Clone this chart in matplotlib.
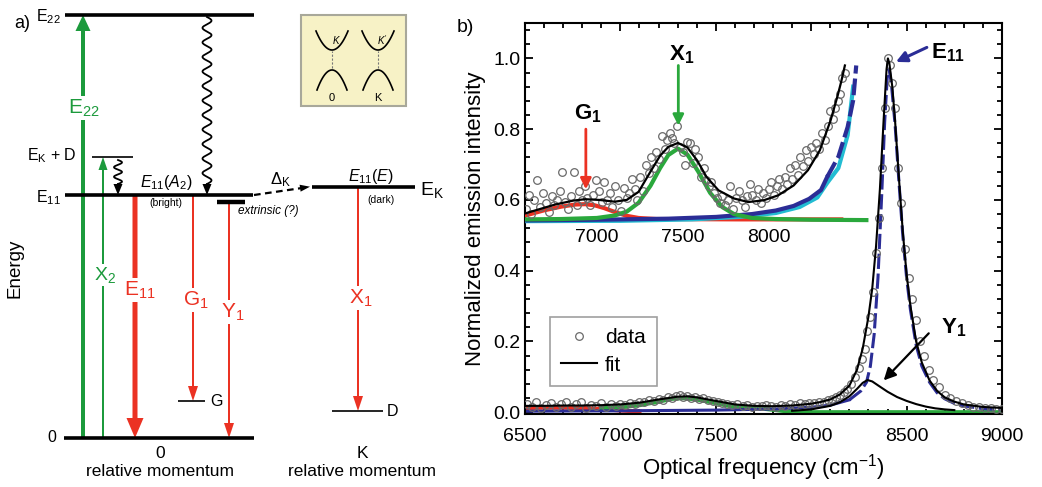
import numpy as np
import matplotlib
matplotlib.use("Agg")
import matplotlib.pyplot as plt
from matplotlib.patches import FancyArrow, Rectangle
from matplotlib.lines import Line2D
from matplotlib.ticker import MultipleLocator

plt.rcParams['font.family'] = ['Liberation Sans', 'DejaVu Sans']
plt.rcParams['mathtext.fontset'] = 'custom'
plt.rcParams['mathtext.rm'] = 'Liberation Sans'
plt.rcParams['mathtext.it'] = 'Liberation Sans:italic'
plt.rcParams['mathtext.bf'] = 'Liberation Sans:bold'

RED = '#eb3223'
GREEN = '#1c9a3c'
GREEN2 = '#2aa83c'
NAVY = '#2b2d96'
CYAN = '#22bcd2'
GREY = '#6a6a6a'

# ---------------- panel a: level scheme (energies in drawing units) ----------------
LEVEL_E = {'E22': 423, 'EKD': 281, 'E11': 243, 'EK': 251, 'extr': 236, 'G': 37, 'D': 27, 'gnd': 0}
LEVEL_X = {'E22': (65, 254), 'EKD': (92, 133), 'E11': (65, 253), 'EK': (312, 415),
           'extr': (217, 245), 'G': (178, 205), 'D': (332, 383), 'gnd': (64, 254)}
LEVEL_LW = {'E22': 2.6, 'EKD': 1.2, 'E11': 2.6, 'EK': 2.6, 'extr': 3.2, 'G': 1.2, 'D': 1.2, 'gnd': 2.6}

# spectrum: main fit and components (cm^-1, normalized)
FIT_X = [6500, 6600, 6700, 6800, 6900, 7000, 7100, 7200, 7300, 7350, 7400, 7500, 7600, 7700, 7800,
         7900, 8000, 8050, 8100, 8150, 8200, 8240, 8270, 8300, 8320, 8340, 8360, 8380, 8395, 8402,
         8410, 8425, 8440, 8460, 8480, 8500, 8520, 8550, 8580, 8620, 8660, 8700, 8750, 8800, 8900, 9000]
FIT_Y = [0.018, 0.018, 0.019, 0.019, 0.020, 0.022, 0.027, 0.036, 0.044, 0.045, 0.042, 0.032, 0.022,
         0.018, 0.017, 0.019, 0.024, 0.029, 0.036, 0.050, 0.075, 0.120, 0.180, 0.270, 0.350, 0.470,
         0.630, 0.830, 0.970, 1.000, 0.985, 0.920, 0.820, 0.660, 0.510, 0.390, 0.300, 0.200, 0.140,
         0.090, 0.060, 0.042, 0.030, 0.022, 0.015, 0.012]

E11_X = [6500, 7000, 7500, 7800, 8000, 8100, 8200, 8260, 8290, 8310, 8330, 8350, 8370, 8385, 8400,
         8408, 8420, 8440, 8460, 8480, 8500, 8520, 8550, 8580, 8620, 8660, 8700, 8750, 8800, 8900, 9000]
E11_Y = [0.003, 0.004, 0.006, 0.009, 0.014, 0.020, 0.035, 0.060, 0.085, 0.130, 0.220, 0.380, 0.620,
         0.820, 0.960, 0.970, 0.930, 0.810, 0.650, 0.500, 0.380, 0.290, 0.190, 0.130, 0.085, 0.055,
         0.038, 0.025, 0.018, 0.010, 0.007]

Y1_X = [7900, 8000, 8100, 8150, 8200, 8240, 8270, 8295, 8320, 8350, 8400, 8450, 8500, 8550, 8600,
        8650, 8700, 8750]
Y1_Y = [0.004, 0.008, 0.018, 0.028, 0.045, 0.066, 0.083, 0.091, 0.087, 0.076, 0.058, 0.043, 0.032,
        0.023, 0.016, 0.011, 0.008, 0.006]

X1_X = [6900, 7000, 7100, 7200, 7270, 7330, 7400, 7480, 7560, 7650, 7750, 7850, 7900, 8000, 9000]
X1_Y = [0.012, 0.014, 0.020, 0.030, 0.038, 0.040, 0.036, 0.028, 0.019, 0.013, 0.010, 0.004, 0.001,
        0.0, 0.0]

G1_X = [6500, 6600, 6700, 6800, 6900, 7000, 7100]
G1_Y = [0.012, 0.013, 0.013, 0.012, 0.009, 0.005, 0.002]

DATA_X = [6510, 6535, 6560, 6585, 6610, 6635, 6660, 6690, 6715, 6740, 6765, 6795, 6820, 6845, 6870,
          6900, 6925, 6950, 6975, 7000, 7025, 7050, 7075, 7100, 7125, 7150, 7175, 7200, 7225, 7250,
          7270, 7290, 7310, 7330, 7350, 7370, 7390, 7410, 7435, 7460, 7485, 7510, 7535, 7560, 7585,
          7610, 7640, 7665, 7690, 7715, 7740, 7765, 7790, 7815, 7840, 7865, 7890, 7915, 7940, 7965,
          7990, 8015, 8040, 8065, 8090, 8110, 8130, 8150, 8170, 8190, 8210, 8230, 8250, 8265, 8280,
          8295, 8310, 8325, 8340, 8355, 8370, 8385, 8400, 8412, 8425, 8440, 8455, 8470, 8490, 8510,
          8530, 8550, 8570, 8590, 8615, 8640, 8670, 8700, 8730, 8760, 8790, 8820, 8850, 8880, 8910,
          8940, 8970, 9000]
DATA_Y = [0.022, 0.015, 0.028, 0.012, 0.020, 0.026, 0.014, 0.024, 0.030, 0.016, 0.022, 0.028, 0.012,
          0.020, 0.018, 0.025, 0.015, 0.022, 0.019, 0.024, 0.020, 0.026, 0.022, 0.030, 0.028, 0.034,
          0.031, 0.038, 0.035, 0.042, 0.040, 0.047, 0.050, 0.044, 0.046, 0.041, 0.044, 0.038, 0.040,
          0.034, 0.031, 0.030, 0.026, 0.024, 0.021, 0.023, 0.018, 0.020, 0.016, 0.019, 0.017, 0.020,
          0.018, 0.016, 0.021, 0.019, 0.022, 0.020, 0.025, 0.023, 0.027, 0.025, 0.030, 0.028, 0.034,
          0.037, 0.042, 0.050, 0.056, 0.066, 0.080, 0.100, 0.125, 0.150, 0.180, 0.230, 0.270, 0.340,
          0.450, 0.550, 0.690, 0.860, 1.000, 0.980, 0.930, 0.860, 0.690, 0.590, 0.460, 0.380, 0.320,
          0.260, 0.200, 0.160, 0.120, 0.090, 0.070, 0.050, 0.040, 0.032, 0.025, 0.020, 0.016, 0.014,
          0.012, 0.011, 0.010, 0.010]

# magnified low-energy part (own frequency scale, offset intensity)
INSET_FIT_X = [6582, 6651, 6756, 6860, 6929, 7012, 7102, 7172, 7241, 7310, 7366, 7414, 7470, 7525,
               7581, 7636, 7706, 7796, 7879, 7969, 8053, 8143, 8226, 8295, 8358, 8399, 8420, 8441]
INSET_FIT_Y = [0.562, 0.572, 0.587, 0.598, 0.602, 0.600, 0.595, 0.600, 0.623, 0.680, 0.725, 0.750,
               0.761, 0.748, 0.712, 0.665, 0.627, 0.604, 0.594, 0.599, 0.613, 0.641, 0.684, 0.740,
               0.825, 0.895, 0.935, 0.980]
INSET_X1_X = [6582, 6790, 6998, 7102, 7172, 7241, 7310, 7366, 7414, 7470, 7525, 7588, 7657, 7727,
              7796, 7900, 8039, 8247, 8566]
INSET_X1_Y = [0.545, 0.546, 0.549, 0.556, 0.567, 0.592, 0.640, 0.690, 0.727, 0.745, 0.728, 0.680,
              0.620, 0.580, 0.560, 0.549, 0.546, 0.544, 0.543]
INSET_G1_X = [6582, 6686, 6790, 6873, 6929, 6984, 7040, 7102, 7172, 7241, 7345, 7831, 8420]
INSET_G1_Y = [0.556, 0.570, 0.581, 0.587, 0.588, 0.585, 0.577, 0.566, 0.555, 0.549, 0.546, 0.545, 0.545]
INSET_E11_X = [6582, 6998, 7414, 7692, 7900, 8039, 8143, 8233, 8302, 8338, 8403, 8457, 8489, 8507]
INSET_E11_Y = [0.542, 0.544, 0.547, 0.552, 0.560, 0.570, 0.583, 0.603, 0.628, 0.665, 0.722, 0.806,
               0.881, 0.980]
INSET_CYAN_X = [6582, 7137, 7553, 7831, 8039, 8178, 8281, 8338, 8403, 8457, 8489]
INSET_CYAN_Y = [0.540, 0.541, 0.545, 0.552, 0.563, 0.580, 0.607, 0.648, 0.690, 0.783, 0.920]
INSET_DATA = [
    (6586, .575), (6603, .615), (6617, .560), (6634, .600), (6651, .655), (6665, .580), (6683, .620),
    (6700, .590), (6717, .565), (6735, .610), (6749, .585), (6766, .600), (6783, .625), (6797, .680),
    (6814, .595), (6832, .575), (6846, .610), (6863, .680), (6880, .585), (6894, .625), (6912, .600),
    (6929, .640), (6943, .605), (6960, .585), (6977, .615), (6991, .655), (7009, .625), (7026, .595),
    (7040, .650), (7057, .600), (7075, .620), (7088, .580), (7106, .640), (7123, .600), (7137, .570),
    (7154, .635), (7172, .605), (7186, .620), (7203, .660), (7220, .630), (7234, .600), (7251, .665),
    (7269, .625), (7283, .700), (7300, .675), (7314, .720), (7331, .690), (7345, .735), (7362, .715),
    (7376, .780), (7393, .745), (7407, .770), (7421, .790), (7435, .775), (7449, .760), (7466, .810),
    (7480, .750), (7497, .735), (7511, .700), (7525, .765), (7542, .760), (7556, .705), (7570, .745),
    (7588, .720), (7601, .665), (7619, .690), (7633, .655), (7650, .640), (7664, .650), (7681, .620),
    (7695, .605), (7713, .590), (7727, .610), (7744, .585), (7761, .600), (7775, .640), (7792, .575),
    (7810, .605), (7824, .625), (7841, .600), (7858, .580), (7872, .610), (7889, .645), (7903, .615),
    (7921, .600), (7935, .630), (7952, .590), (7966, .620), (7983, .605), (7997, .630), (8014, .650),
    (8028, .615), (8046, .640), (8059, .660), (8073, .630), (8091, .665), (8105, .645), (8122, .690),
    (8136, .660), (8153, .700), (8167, .670), (8181, .720), (8198, .695), (8212, .740), (8226, .710),
    (8243, .750), (8261, .730), (8274, .760), (8292, .745), (8309, .790), (8323, .770), (8340, .810),
    (8354, .850), (8372, .830), (8386, .860), (8399, .880), (8413, .900), (8427, .945), (8441, .960)]
INSET_TICKS = [7000, 7500, 8000]

fig = plt.figure(figsize=(10.42, 4.87), dpi=100)

# ---------------------------------------------------------------- panel a
axa = fig.add_axes([0, 0, 440 / 1042, 1])
axa.set_xlim(0, 440)
axa.set_ylim(-49, 438)
axa.axis('off')

for key, (x0, x1) in LEVEL_X.items():
    axa.plot([x0, x1], [LEVEL_E[key]] * 2, color='k', lw=LEVEL_LW[key], solid_capstyle='butt', zorder=3)


def vert_arrow(x, e_from, e_to, color, width, hw, hl):
    axa.add_patch(FancyArrow(x, e_from, 0, e_to - e_from, width=width, head_width=hw, head_length=hl,
                             length_includes_head=True, color=color, lw=0, zorder=2))


def wavy_arrow(x, e_from, e_to, amp, n_waves):
    hl = 11
    y = np.linspace(e_from, e_to + hl, 400)
    xs = x + amp * np.sin(2 * np.pi * n_waves * (e_from - y) / (e_from - e_to - hl))
    axa.plot(xs, y, color='k', lw=1.3, zorder=4)
    axa.add_patch(FancyArrow(x, e_to + hl + 1, 0, -hl - 1, width=1.3, head_width=9, head_length=hl,
                             length_includes_head=True, color='k', lw=0, zorder=4))


vert_arrow(83, LEVEL_E['gnd'], LEVEL_E['E22'], GREEN, 4, 15, 16)
vert_arrow(103, LEVEL_E['gnd'], LEVEL_E['EKD'], GREEN, 2, 9, 13)
vert_arrow(135, LEVEL_E['E11'], LEVEL_E['gnd'], RED, 5, 17, 20)
vert_arrow(193, LEVEL_E['E11'], LEVEL_E['G'], RED, 2, 10, 15)
vert_arrow(229, LEVEL_E['extr'], LEVEL_E['gnd'], RED, 2, 10, 15)
vert_arrow(358, LEVEL_E['EK'], LEVEL_E['D'], RED, 2, 10, 15)
wavy_arrow(207, LEVEL_E['E22'] - 2, LEVEL_E['E11'], 4.5, 11.5)
wavy_arrow(118, LEVEL_E['EKD'] - 3, LEVEL_E['E11'], 4, 2.5)

# dashed intervalley scattering arrow
axa.plot([254, 302], [LEVEL_E['E11'], 250], color='k', lw=1.6, ls=(0, (3, 2)), zorder=3)
axa.add_patch(FancyArrow(300, 249.8, 10, 1.5, width=0.5, head_width=7, head_length=10,
                         length_includes_head=True, color='k', lw=0, zorder=3))

txt = dict(ha='center', va='center')
wbox = dict(fc='white', ec='none', pad=1.0)
axa.text(14, 415, 'a)', fontsize=13, ha='left', va='center')
axa.text(61, LEVEL_E['E22'] - 2, 'E$_{22}$', fontsize=11.5, ha='right', va='center')
axa.text(77, LEVEL_E['EKD'] + 1, 'E$_{\\rm K}$ + D', fontsize=11.5, ha='right', va='center')
axa.text(61, LEVEL_E['E11'] - 3, 'E$_{11}$', fontsize=11.5, ha='right', va='center')
axa.text(56, LEVEL_E['gnd'], '0', fontsize=11.5, ha='right', va='center')
axa.text(15, 170, 'Energy', fontsize=13.5, rotation=90, **txt)

axa.text(84, 330, 'E$_{22}$', fontsize=15, color=GREEN, bbox=wbox, zorder=5, **txt)
axa.text(105, 163, 'X$_2$', fontsize=14, color=GREEN, bbox=wbox, zorder=5, **txt)
axa.text(140, 148, 'E$_{11}$', fontsize=15, color=RED, bbox=wbox, zorder=5, **txt)
axa.text(196, 138, 'G$_1$', fontsize=15, color=RED, bbox=wbox, zorder=5, **txt)
axa.text(233, 126, 'Y$_1$', fontsize=15, color=RED, bbox=wbox, zorder=5, **txt)
axa.text(361, 140, 'X$_1$', fontsize=15, color=RED, bbox=wbox, zorder=5, **txt)

axa.text(166, 256, '$E_{11}(A_2)$', fontsize=11.5, **txt)
axa.text(166, 235, '(bright)', fontsize=7.5, **txt)
axa.text(238, 227, 'extrinsic (?)', fontsize=8.5, style='italic', ha='left', va='center')
axa.text(280, 258, '$\\Delta_{\\rm K}$', fontsize=12, **txt)
axa.text(371, 261, '$E_{11}(E)$', fontsize=11.5, **txt)
axa.text(381, 238, '(dark)', fontsize=7.5, **txt)
axa.text(420, LEVEL_E['EK'] - 3, 'E$_{\\rm K}$', fontsize=14, ha='left', va='center')
axa.text(210, LEVEL_E['G'], 'G', fontsize=11.5, ha='left', va='center')
axa.text(387, LEVEL_E['D'], 'D', fontsize=11.5, ha='left', va='center')
axa.text(160, -16, '0', fontsize=12.5, **txt)
axa.text(160, -33, 'relative momentum', fontsize=12.5, **txt)
axa.text(362, -16, 'K', fontsize=12.5, **txt)
axa.text(362, -33, 'relative momentum', fontsize=12.5, **txt)

# band-structure sketch
axa.add_patch(Rectangle((301, 332), 105, 91, fc='#f7f2c6', ec='#a8a89a', lw=1.5, zorder=1))
for cx, lab, klab in [(332, '0', '$K$'), (378, 'K', "$K'$")]:
    u = np.linspace(-1, 1, 60)
    axa.plot(cx + 16 * u, 388 + 19 * u ** 2, color='k', lw=1.2, zorder=2)
    axa.plot(cx + 15 * u, 368 - 20 * u ** 2, color='k', lw=1.2, zorder=2)
    axa.plot([cx, cx], [370, 387], color='#777777', lw=0.8, ls=(0, (2, 1.5)), zorder=2)
    axa.text(cx + 4, 398, klab, fontsize=7, **txt)
    axa.text(cx, 340, lab, fontsize=8, **txt)

# ---------------------------------------------------------------- panel b
ax = fig.add_axes([525 / 1042, 73 / 487, 477 / 1042, 391 / 487])
ax.set_xlim(6500, 9000)
ax.set_ylim(-0.005, 1.1)

ax.plot(G1_X, G1_Y, color=RED, lw=3, zorder=2)
ax.plot(X1_X, X1_Y, color=GREEN2, lw=3, zorder=2)
# E11 component: flat foot drawn solid, the peak dashed
ax.plot(E11_X[:7], E11_Y[:7], color=NAVY, lw=2.2, zorder=2)
ax.plot(E11_X[6:], E11_Y[6:], color=NAVY, lw=2.2, ls=(0, (5, 1.5)), zorder=2)
ax.plot(Y1_X, Y1_Y, color='k', lw=1.5, zorder=4)
ax.plot(DATA_X, DATA_Y, ls='none', marker='o', ms=5.5, mfc='none', mec=GREY, mew=0.9, zorder=3)
ax.plot(FIT_X, FIT_Y, color='k', lw=1.5, zorder=4)

ax.xaxis.set_major_locator(MultipleLocator(500))
ax.xaxis.set_minor_locator(MultipleLocator(100))
ax.yaxis.set_major_locator(MultipleLocator(0.2))
ax.yaxis.set_minor_locator(MultipleLocator(0.04))
ax.tick_params(which='both', direction='in', top=True, right=True, width=1.3)
ax.tick_params(which='major', length=6, labelsize=14)
ax.tick_params(axis='x', which='major', pad=10)
ax.tick_params(which='minor', length=3.5)
ax.set_yticks([0, 0.2, 0.4, 0.6, 0.8, 1.0])
ax.set_yticklabels(['0.0', '0.2', '0.4', '0.6', '0.8', '1.0'])
for s in ax.spines.values():
    s.set_linewidth(1.5)
ax.set_xlabel('Optical frequency (cm$^{-1}$)', fontsize=16, labelpad=5)
ax.set_ylabel('Normalized emission intensity', fontsize=16, labelpad=5)
fig.text(465 / 1042, 1 - 27 / 487, 'b)', fontsize=14, ha='center', va='center')

ax.annotate('', xy=(8444, 0.99), xytext=(8606, 1.031),
            arrowprops=dict(arrowstyle='-|>', color=NAVY, lw=2.2, mutation_scale=16, shrinkA=0, shrinkB=0))
ax.text(8627, 1.017, '$\\mathbf{E}_{\\mathbf{11}}$', fontsize=16, ha='left', va='center')
ax.annotate('', xy=(8380, 0.09), xytext=(8616, 0.223),
            arrowprops=dict(arrowstyle='-|>', color='k', lw=1.6, mutation_scale=18, shrinkA=0, shrinkB=0))
ax.text(8679, 0.24, '$\\mathbf{Y}_{\\mathbf{1}}$', fontsize=16, ha='left', va='center')

handles = [Line2D([], [], ls='none', marker='o', ms=5.5, mfc='none', mec=GREY, mew=0.9),
           Line2D([], [], color='k', lw=1.5)]
leg = ax.legend(handles, ['data', 'fit'], loc='upper left', bbox_to_anchor=(0.03, 0.275),
                fontsize=15, frameon=True, fancybox=False, handlelength=1.7, handletextpad=0.4,
                borderpad=0.55, labelspacing=0.4)
leg.get_frame().set_edgecolor('#888888')
leg.get_frame().set_linewidth(1.2)

# magnified view drawn over the same box on its own frequency scale
ins = fig.add_axes(ax.get_position(), frameon=False)
ins.set_xlim(6580, 9355)
ins.set_ylim(-0.005, 1.1)
ins.axis('off')
ins.plot(INSET_G1_X, INSET_G1_Y, color=RED, lw=3, zorder=2)
ins.plot(INSET_CYAN_X, INSET_CYAN_Y, color=CYAN, lw=3, zorder=2)
ins.plot(INSET_E11_X[:10], INSET_E11_Y[:10], color=NAVY, lw=3, zorder=2)
ins.plot(INSET_E11_X[9:], INSET_E11_Y[9:], color=NAVY, lw=3, ls=(0, (4, 1.2)), zorder=2)
ins.plot(INSET_X1_X, INSET_X1_Y, color=GREEN2, lw=3, zorder=2)
ins.plot([p[0] for p in INSET_DATA], [p[1] for p in INSET_DATA], ls='none', marker='o', ms=5.5,
         mfc='none', mec=GREY, mew=0.9, zorder=3)
ins.plot(INSET_FIT_X, INSET_FIT_Y, color='k', lw=1.6, zorder=4)
for t in INSET_TICKS:
    ins.text(t, 0.495, str(t), fontsize=14, ha='center', va='center')

ins.annotate('', xy=(6934, 0.63), xytext=(6934, 0.80),
             arrowprops=dict(arrowstyle='-|>', color=RED, lw=2, mutation_scale=16, shrinkA=0, shrinkB=0))
ins.text(6945, 0.845, '$\\mathbf{G}_{\\mathbf{1}}$', fontsize=16, ha='center', va='center')
ins.annotate('', xy=(7472, 0.81), xytext=(7472, 0.98),
             arrowprops=dict(arrowstyle='-|>', color=GREEN2, lw=2, mutation_scale=16, shrinkA=0, shrinkB=0))
ins.text(7489, 1.01, '$\\mathbf{X}_{\\mathbf{1}}$', fontsize=16, ha='center', va='center')

fig.savefig('out.png', dpi=100)
